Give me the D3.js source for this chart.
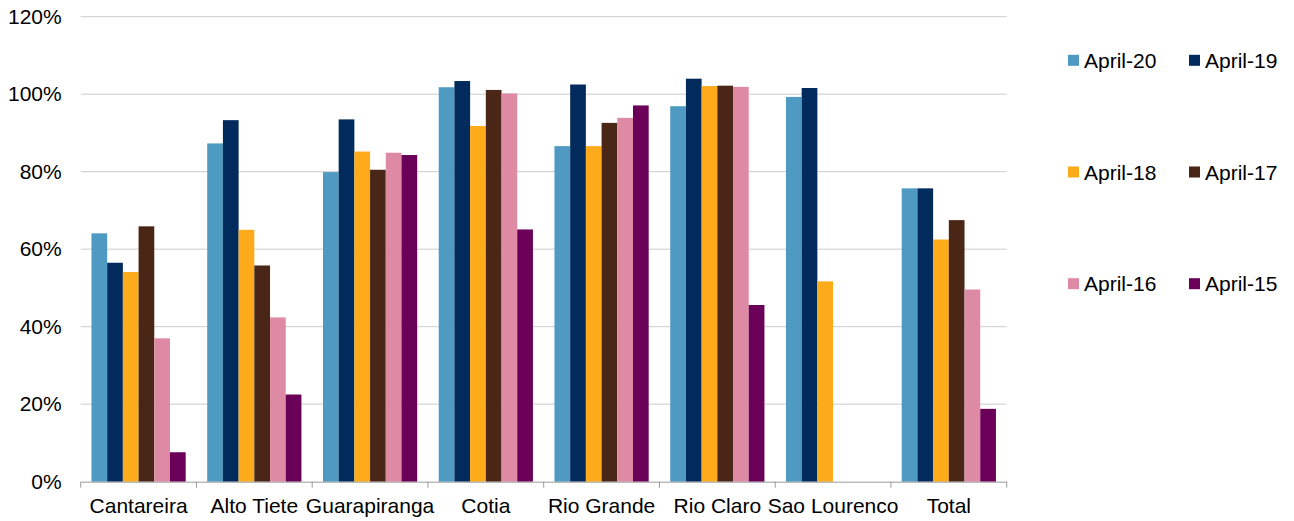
<!DOCTYPE html>
<html>
<head>
<meta charset="utf-8">
<script src="https://cdn.jsdelivr.net/npm/d3@7"></script>
<style>
  body { margin: 0; background: #fff; }
  svg text { font-family: "Liberation Sans", Arial, sans-serif; fill: #000; }
</style>
</head>
<body>
<script>
(function(){

  //chart data
  var categories = ["Cantareira", "Alto Tiete", "Guarapiranga", "Cotia", "Rio Grande", "Rio Claro", "Sao Lourenco", "Total"];
  var seriesNames = ["April-20", "April-19", "April-18", "April-17", "April-16", "April-15"];
  var april20 = [64.1, 87.3, 79.9, 101.8, 86.6, 96.9, 99.3, 75.7];
  var april19 = [56.5, 93.3, 93.5, 103.4, 102.5, 104.0, 101.6, 75.7];
  var april18 = [54.1, 65.0, 85.2, 91.8, 86.6, 102.1, 51.7, 62.5];
  var april17 = [65.9, 55.8, 80.5, 101.1, 92.6, 102.2, null, 67.5];
  var april16 = [37.0, 42.4, 84.9, 100.2, 93.9, 101.9, null, 49.6];
  var april15 = [7.6, 22.5, 84.3, 65.1, 97.1, 45.6, null, 18.8];
  var yTicks = [0, 20, 40, 60, 80, 100, 120];
  var colors = ["#4f9ac2", "#002b5c", "#fdab1a", "#4a2616", "#de8aa4", "#6b0058"];

  var seriesValues = [april20, april19, april18, april17, april16, april15];

  window.onload = drawChart();

  function drawChart(){
    var width = 1294,
        height = 521;

    var margin = {left: 80.7, right: 287.3, top: 16.7, bottom: 39.3};

    var svg = d3.select("body")
      .append("svg")
      .attr("width", width)
      .attr("height", height);

    var x0 = d3.scaleBand() //category bands
      .domain(categories)
      .range([margin.left, width - margin.right])
      .paddingInner(0)
      .paddingOuter(0);

    var x1 = d3.scaleBand() //bars inside a category
      .domain(seriesNames)
      .range([x0.bandwidth() * 0.093, x0.bandwidth() * 0.907]);

    var y = d3.scaleLinear()
      .domain([0, 120])
      .range([height - margin.bottom, margin.top]);

    //gridlines
    svg.append("g")
      .selectAll("line")
      .data(yTicks.filter(function(d){ return d > 0; }))
      .enter()
      .append("line")
      .attr("x1", margin.left)
      .attr("x2", width - margin.right)
      .attr("y1", function(d){ return y(d); })
      .attr("y2", function(d){ return y(d); })
      .attr("stroke", "#cccccc")
      .attr("stroke-width", 1);

    //y labels
    var yAxis = d3.axisLeft(y)
      .tickValues(yTicks)
      .tickFormat(function(d){ return d + "%"; })
      .tickSize(0)
      .tickPadding(19);

    svg.append("g")
      .attr("transform", "translate(" + margin.left + ",0)")
      .call(yAxis)
      .call(function(g){ g.select(".domain").remove(); })
      .selectAll("text")
      .style("font-size", "21px")
      .style("font-family", "Liberation Sans, Arial, sans-serif");

    //bars
    var groups = svg.append("g")
      .selectAll("g")
      .data(categories)
      .enter()
      .append("g")
      .attr("transform", function(d){ return "translate(" + x0(d) + ",0)"; });

    groups.selectAll("rect")
      .data(function(d, i){
        return seriesNames.map(function(s, j){
          return {series: s, value: seriesValues[j][i], color: colors[j]};
        }).filter(function(b){ return b.value !== null; });
      })
      .enter()
      .append("rect")
      .attr("x", function(d){ return x1(d.series); })
      .attr("width", x1.bandwidth())
      .attr("y", function(d){ return y(d.value); })
      .attr("height", function(d){ return y(0) - y(d.value); })
      .attr("fill", function(d){ return d.color; });

    //x axis
    var xAxis = d3.axisBottom(x0)
      .tickSize(0)
      .tickPadding(16);

    var xg = svg.append("g")
      .attr("transform", "translate(0," + y(0) + ")")
      .call(xAxis);
    xg.select(".domain").attr("stroke", "#9a9a9a");
    xg.selectAll("text")
      .style("font-size", "21px")
      .style("font-family", "Liberation Sans, Arial, sans-serif");

    //category boundary ticks
    var bounds = categories.map(function(c){ return x0(c); });
    bounds.push(x0(categories[categories.length - 1]) + x0.bandwidth());
    xg.selectAll(".bound")
      .data(bounds)
      .enter()
      .append("line")
      .attr("class", "bound")
      .attr("x1", function(d){ return d; })
      .attr("x2", function(d){ return d; })
      .attr("y1", 0)
      .attr("y2", 6)
      .attr("stroke", "#9a9a9a");

    //legend
    var legend = svg.append("g")
      .selectAll("g")
      .data(seriesNames)
      .enter()
      .append("g")
      .attr("transform", function(d, i){
        var col = i % 2, row = Math.floor(i / 2);
        return "translate(" + (1068 + col * 121) + "," + (60.3 + row * 111.7) + ")";
      });

    legend.append("rect")
      .attr("x", 0)
      .attr("y", -5.5)
      .attr("width", 11)
      .attr("height", 11)
      .attr("fill", function(d, i){ return colors[i]; });

    legend.append("text")
      .attr("x", 16)
      .attr("y", 0)
      .attr("dy", "0.36em")
      .style("font-size", "21px")
      .text(function(d){ return d; });
  };
})();
</script>
</body>
</html>
